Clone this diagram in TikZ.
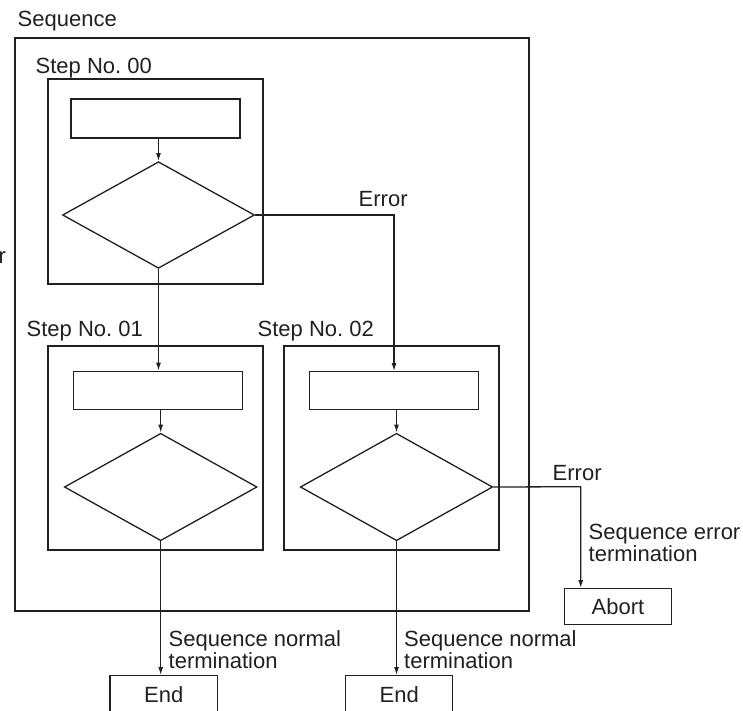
\documentclass[tikz,border=0pt]{standalone}
\usepackage{fontspec}
\setmainfont{Liberation Sans}
\usetikzlibrary{arrows.meta,shapes.geometric}
\definecolor{ln}{HTML}{231F20}
\frenchspacing
\begin{document}
\begin{tikzpicture}[x=1pt,y=-1pt,
  font=\fontsize{22}{21}\selectfont,
  boxst/.style={draw=ln,line width=1.3pt,rectangle,inner sep=0pt,text=ln},
  diast/.style={draw=ln,line width=1.3pt,diamond,inner sep=0pt},
  lbl/.style={anchor=base west,inner sep=0pt,text=ln},
  arr/.style={draw=ln,line width=1.3pt,-{Latex[length=8pt,width=5pt]}}
]
\useasboundingbox (0,0) rectangle (743,710);
% containers
\node[boxst,minimum width=514pt,minimum height=573pt] (seq) at (272,324.5) {};
\node[boxst,minimum width=215pt,minimum height=205pt] (s00) at (155.5,181.5) {};
\node[boxst,minimum width=215pt,minimum height=204pt] (s01) at (155.5,448) {};
\node[boxst,minimum width=215pt,minimum height=204pt] (s02) at (391.5,448) {};
% process boxes
\node[boxst,minimum width=169pt,minimum height=39pt] (r00) at (155.5,118.5) {};
\node[boxst,minimum width=169pt,minimum height=38.4pt] (r01) at (158.3,390.5) {};
\node[boxst,minimum width=169pt,minimum height=38pt] (r02) at (394,390.7) {};
% decisions
\node[diast,minimum width=192pt,minimum height=106.6pt] (d00) at (158.5,215) {};
\node[diast,minimum width=192.7pt,minimum height=107.4pt] (d01) at (160.7,487) {};
\node[diast,minimum width=192.4pt,minimum height=107.4pt] (d02) at (396.5,487) {};
% terminals
\node[boxst,minimum width=107.4pt,minimum height=36pt] (abort) at (618,606.7) {Abort};
\node[boxst,minimum width=107.3pt,minimum height=40pt] (end1) at (163.7,695.7) {\raisebox{2pt}{End}};
\node[boxst,minimum width=107pt,minimum height=40pt] (end2) at (399.2,695.7) {\raisebox{2pt}{End}};
% labels
\node[lbl] (lseq) at (17.5,26.7) {Sequence};
\node[lbl] (l00) at (35.5,73.3) {Step No. 00};
\node[lbl] (l01) at (26.5,336) {Step No. 01};
\node[lbl] (l02) at (257.5,336) {Step No. 02};
\node[lbl] (err1) at (358.5,206) {Error};
\node[lbl] (err2) at (552.5,480) {Error};
\node[lbl] (lerr) at (588.5,539) {\begin{tabular}[t]{@{}l@{}}Sequence error\\termination\end{tabular}};
\node[lbl] (ln1) at (168.5,646.7) {\begin{tabular}[t]{@{}l@{}}Sequence normal\\termination\end{tabular}};
\node[lbl] (ln2) at (404,646.7) {\begin{tabular}[t]{@{}l@{}}Sequence normal\\termination\end{tabular}};
\node[lbl] (frag) at (-1.5,263) {r};
% connectors
\coordinate (e2) at (580.7,486.7);
\draw[arr] (r00.south -| d00.north) -- (d00.north);
\draw[arr] (d00.south) -- (d00.south |- r01.north);
\draw[arr] (r01.south -| d01.north) -- (d01.north);
\draw[arr] (d01.south) -- (d01.south |- end1.north);
\draw[arr] (d00.east) -| (r02.north);
\draw[arr] (r02.south -| d02.north) -- (d02.north);
\draw[arr] (d02.south) -- (d02.south |- end2.north);
\draw[arr] (d02.east) -- (e2) -- (e2 |- abort.north);
\end{tikzpicture}
\end{document}
